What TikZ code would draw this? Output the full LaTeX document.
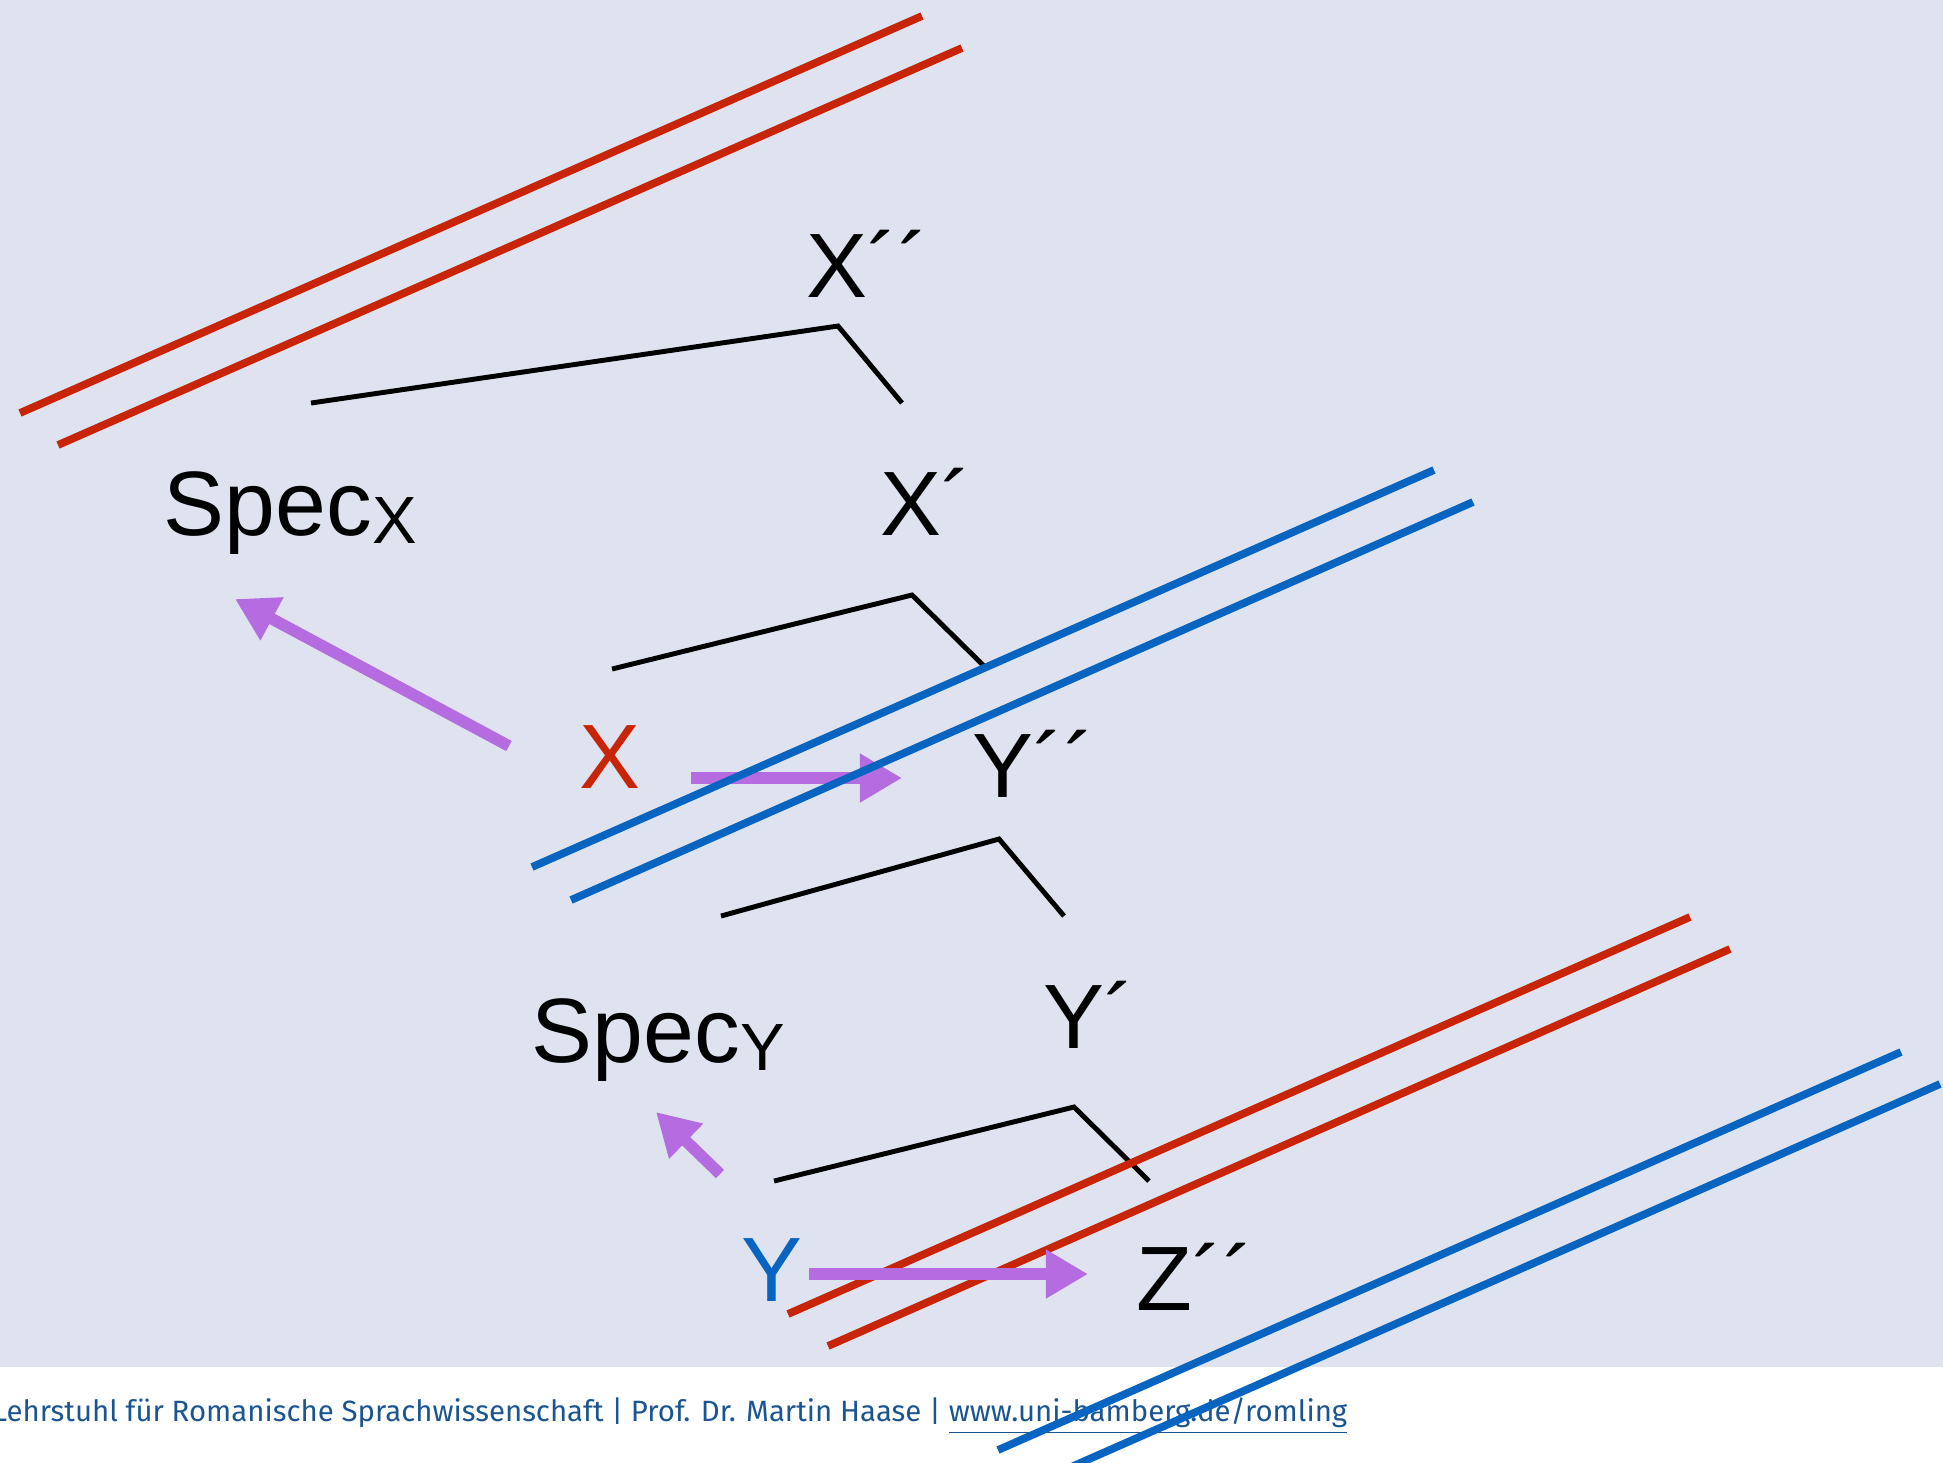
\documentclass[tikz,border=0pt]{standalone}
\usepackage{fontspec}
\setmainfont{Liberation Sans}
\newfontfamily\footfont{Fira Sans}
\usetikzlibrary{arrows.meta}
\definecolor{Paper}{HTML}{DFE3EF}
\definecolor{Red}{HTML}{C82508}
\definecolor{Blue}{HTML}{0764C1}
\definecolor{Purple}{HTML}{B46CE0}
\definecolor{Foot}{HTML}{1B5591}
\begin{document}
\begin{tikzpicture}[x=0.01cm,y=-0.01cm,
    lbl/.style={inner sep=0pt,anchor=base west,font=\fontsize{26}{30}\selectfont},
    branch/.style={line width=1.4pt},
    bar/.style={line width=2.2pt},
    move/.style={Purple,line width=3.3pt,-{Triangle[length=0.42cm,width=0.46cm]}}]
  \useasboundingbox (0,0) rectangle (1943,1462);
  \clip (0,0) rectangle (1943,1462);
  \fill[Paper] (0,0) rectangle (1943,1367);
  % footer
  \node[anchor=base west,inner sep=0pt,text=Foot,font=\footfont\fontsize{8.35}{10}\selectfont] (foot) at (-8,1421)
    {Lehrstuhl für Romanische Sprachwissenschaft | Prof. Dr. Martin Haase | \underline{www.uni-bamberg.de/romling}};
  % branches
  \foreach \n/\l/\t/\r in {1/{311,403}/{838,326}/{902,403},2/{612,669}/{912,595}/{985,667},
                           3/{721,916}/{999,839}/{1064,916},4/{774,1181}/{1074,1107}/{1149,1181}}{
    \coordinate (top\n) at (\t);
    \coordinate (left\n) at (\l);
    \coordinate (right\n) at (\r);
    \draw[branch] (left\n) -- (top\n) -- (right\n);}
  \coordinate (xs) at (691,778);
  \coordinate (xe) at (902,778);
  \draw[move] (xs) -- (xe);
  % bars
  \foreach \n/\col/\a/\b in {a/Red/{20,413}/{922,16},b/Red/{58,445}/{962,48},
                             c/Blue/{532,867}/{1434,470},d/Blue/{571,900}/{1473,502},
                             e/Red/{788,1314}/{1690,917},f/Red/{828,1346}/{1730,949},
                             g/Blue/{998,1450}/{1901,1052},h/Blue/{1037,1482}/{1940,1084}}{
    \coordinate (\n0) at (\a);
    \coordinate (\n1) at (\b);
    \draw[bar,\col] (\n0) -- (\n1);}
  % labels
  \node[lbl] (xbarbar) at (806,297) {X´´};
  \node[lbl] (specx) at (163,535) {Spec\raisebox{-0.08cm}{\fontsize{19}{20}\selectfont X}};
  \node[lbl] (xbar) at (880,535) {X´};
  \node[lbl,text=Red] (xhead) at (579,788) {X};
  \node[lbl] (ybarbar) at (972,797) {Y´´};
  \node[lbl] (specy) at (531,1062) {Spec\raisebox{-0.08cm}{\fontsize{19}{20}\selectfont Y}};
  \node[lbl] (ybar) at (1043,1048) {Y´};
  \node[lbl,text=Blue] (yhead) at (741,1301) {Y};
  \node[lbl] (zbarbar) at (1136,1310) {Z´´};
  % movement
  \coordinate (sxs) at (509,746);
  \coordinate (sxe) at (235,599);
  \coordinate (sys) at (720,1174);
  \coordinate (sye) at (656,1112);
  \coordinate (ys) at (809,1274);
  \coordinate (ye) at (1088,1274);
  \draw[move] (sxs) -- (sxe);
  \draw[move] (sys) -- (sye);
  \draw[move] (ys) -- (ye);
\end{tikzpicture}
\end{document}
